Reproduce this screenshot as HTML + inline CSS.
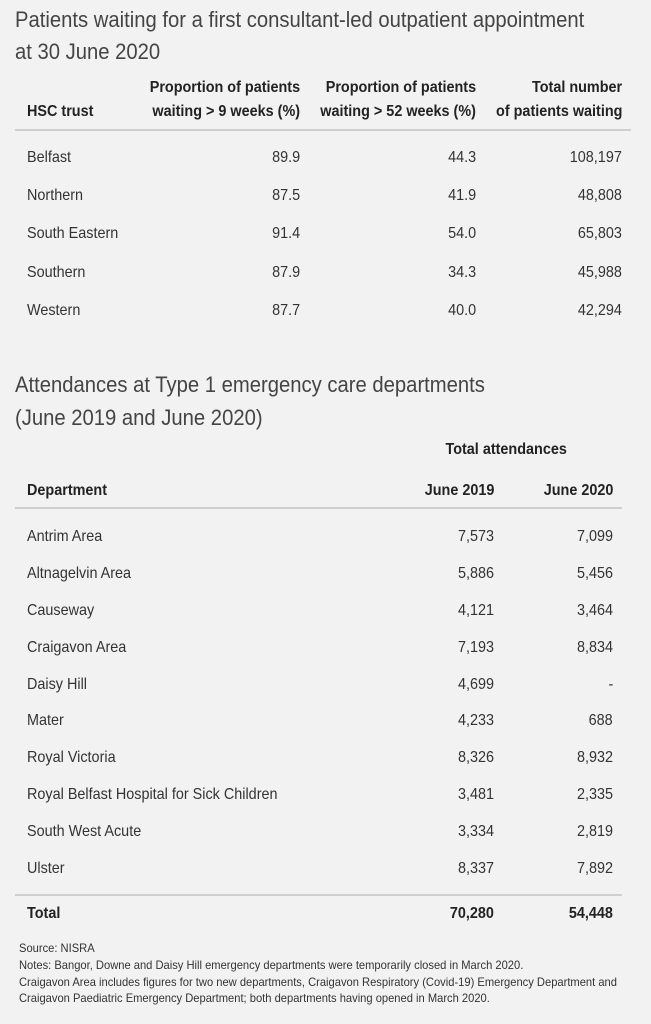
<!DOCTYPE html>
<html><head><meta charset="utf-8"><style>
body{margin:0;background:#f2f2f2;}
#c{position:relative;width:651px;height:1024px;background:#f2f2f2;overflow:hidden;font-family:"Liberation Sans",sans-serif;color:#333;}
.t{position:absolute;white-space:nowrap;line-height:1;}
.L{transform:scaleX(0.9);transform-origin:left center;}
.R{transform:scaleX(0.9);transform-origin:right center;text-align:right;}
.h{font-size:22px;font-weight:300;color:#444;transform:scaleX(0.92);}
.b{font-weight:bold;color:#222;}
.r{font-size:16px;}
.n{font-size:12px;transform:scaleX(0.93);}
.line{position:absolute;height:2px;background:#cfcfcf;}
</style></head><body><div id="c">
<div class="t L h" style="left:15px;top:9px">Patients waiting for a first consultant-led outpatient appointment</div>
<div class="t L h" style="left:15px;top:41px">at 30 June 2020</div>

<div class="t R r b" style="right:351px;top:80px">Proportion of patients</div>
<div class="t R r b" style="right:175px;top:80px">Proportion of patients</div>
<div class="t R r b" style="right:29px;top:80px">Total number</div>
<div class="t L r b" style="left:27px;top:104px">HSC trust</div>
<div class="t R r b" style="right:351px;top:104px">waiting &gt; 9 weeks (%)</div>
<div class="t R r b" style="right:175px;top:104px">waiting &gt; 52 weeks (%)</div>
<div class="t R r b" style="right:29px;top:104px">of patients waiting</div>
<div class="line" style="left:15px;width:616px;top:129px"></div>

<div class="t L r" style="left:27px;top:150px">Belfast</div><div class="t R r" style="right:351px;top:150px">89.9</div><div class="t R r" style="right:175px;top:150px">44.3</div><div class="t R r" style="right:29px;top:150px">108,197</div>
<div class="t L r" style="left:27px;top:188px">Northern</div><div class="t R r" style="right:351px;top:188px">87.5</div><div class="t R r" style="right:175px;top:188px">41.9</div><div class="t R r" style="right:29px;top:188px">48,808</div>
<div class="t L r" style="left:27px;top:226px">South Eastern</div><div class="t R r" style="right:351px;top:226px">91.4</div><div class="t R r" style="right:175px;top:226px">54.0</div><div class="t R r" style="right:29px;top:226px">65,803</div>
<div class="t L r" style="left:27px;top:265px">Southern</div><div class="t R r" style="right:351px;top:265px">87.9</div><div class="t R r" style="right:175px;top:265px">34.3</div><div class="t R r" style="right:29px;top:265px">45,988</div>
<div class="t L r" style="left:27px;top:303px">Western</div><div class="t R r" style="right:351px;top:303px">87.7</div><div class="t R r" style="right:175px;top:303px">40.0</div><div class="t R r" style="right:29px;top:303px">42,294</div>

<div class="t L h" style="left:15px;top:374px">Attendances at Type 1 emergency care departments</div>
<div class="t L h" style="left:15px;top:407px">(June 2019 and June 2020)</div>
<div class="t R r b" style="right:84px;top:442px">Total attendances</div>
<div class="t L r b" style="left:27px;top:483px">Department</div>
<div class="t R r b" style="right:157px;top:483px">June 2019</div>
<div class="t R r b" style="right:38px;top:483px">June 2020</div>
<div class="line" style="left:15px;width:607px;top:507px"></div>

<div class="t L r" style="left:27px;top:529px">Antrim Area</div><div class="t R r" style="right:157px;top:529px">7,573</div><div class="t R r" style="right:38px;top:529px">7,099</div>
<div class="t L r" style="left:27px;top:566px">Altnagelvin Area</div><div class="t R r" style="right:157px;top:566px">5,886</div><div class="t R r" style="right:38px;top:566px">5,456</div>
<div class="t L r" style="left:27px;top:603px">Causeway</div><div class="t R r" style="right:157px;top:603px">4,121</div><div class="t R r" style="right:38px;top:603px">3,464</div>
<div class="t L r" style="left:27px;top:640px">Craigavon Area</div><div class="t R r" style="right:157px;top:640px">7,193</div><div class="t R r" style="right:38px;top:640px">8,834</div>
<div class="t L r" style="left:27px;top:677px">Daisy Hill</div><div class="t R r" style="right:157px;top:677px">4,699</div><div class="t R r" style="right:38px;top:677px">-</div>
<div class="t L r" style="left:27px;top:713px">Mater</div><div class="t R r" style="right:157px;top:713px">4,233</div><div class="t R r" style="right:38px;top:713px">688</div>
<div class="t L r" style="left:27px;top:750px">Royal Victoria</div><div class="t R r" style="right:157px;top:750px">8,326</div><div class="t R r" style="right:38px;top:750px">8,932</div>
<div class="t L r" style="left:27px;top:787px">Royal Belfast Hospital for Sick Children</div><div class="t R r" style="right:157px;top:787px">3,481</div><div class="t R r" style="right:38px;top:787px">2,335</div>
<div class="t L r" style="left:27px;top:824px">South West Acute</div><div class="t R r" style="right:157px;top:824px">3,334</div><div class="t R r" style="right:38px;top:824px">2,819</div>
<div class="t L r" style="left:27px;top:861px">Ulster</div><div class="t R r" style="right:157px;top:861px">8,337</div><div class="t R r" style="right:38px;top:861px">7,892</div>
<div class="line" style="left:15px;width:607px;top:894px"></div>
<div class="t L r b" style="left:27px;top:906px">Total</div><div class="t R r b" style="right:157px;top:906px">70,280</div><div class="t R r b" style="right:38px;top:906px">54,448</div>

<div class="t L n" style="left:19px;top:942px">Source: NISRA</div>
<div class="t L n" style="left:19px;top:959px">Notes: Bangor, Downe and Daisy Hill emergency departments were temporarily closed in March 2020.</div>
<div class="t L n" style="left:19px;top:976px">Craigavon Area includes figures for two new departments, Craigavon Respiratory (Covid-19) Emergency Department and</div>
<div class="t L n" style="left:19px;top:992px">Craigavon Paediatric Emergency Department; both departments having opened in March 2020.</div>
</div></body></html>
